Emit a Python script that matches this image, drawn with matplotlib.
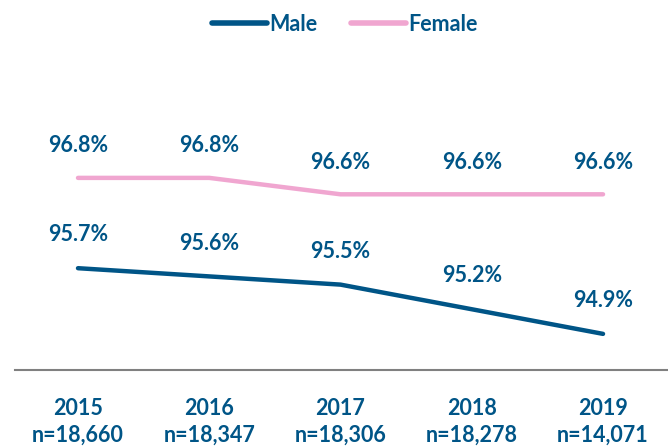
import matplotlib.pyplot as plt

years = ["2015", "2016", "2017", "2018", "2019"]
sample_sizes = ["n=18,660", "n=18,347", "n=18,306", "n=18,278", "n=14,071"]
male = [95.7, 95.6, 95.5, 95.2, 94.9]
female = [96.8, 96.8, 96.6, 96.6, 96.6]

navy = "#005587"
pink = "#F0A6D0"

plt.rcParams['font.family'] = ['Lato', 'DejaVu Sans']
plt.rcParams['font.weight'] = 'bold'

FS = 15.5


def main():
    fig = plt.figure(figsize=(6.68, 4.46), dpi=100)
    # axes spans from x=15px to the right edge, bottom at the baseline (y=370px)
    ax = fig.add_axes([15 / 668, 76 / 446, 653 / 668, 370 / 446])

    x = list(range(len(years)))
    ax.plot(x, male, color=navy, lw=3.2, solid_capstyle='round', label="Male")
    ax.plot(x, female, color=pink, lw=3.2, solid_capstyle='round', label="Female")

    for i in x:
        ax.annotate(f"{male[i]:.1f}%", (i, male[i]), xytext=(0, 24), textcoords='offset points',
                    ha='center', va='center', color=navy, fontsize=FS, fontweight='bold')
        ax.annotate(f"{female[i]:.1f}%", (i, female[i]), xytext=(0, 23), textcoords='offset points',
                    ha='center', va='center', color=navy, fontsize=FS, fontweight='bold')

    ax.set_xlim(-0.48, 4.495)
    ax.set_ylim(94.46, 94.46 + 370 / 82.1)

    for s in ['top', 'right', 'left']:
        ax.spines[s].set_visible(False)
    ax.spines['bottom'].set_color('#808080')
    ax.spines['bottom'].set_linewidth(1.5)
    ax.set_yticks([])
    ax.set_xticks(x)
    ax.set_xticklabels([f"{y}\n{n}" for y, n in zip(years, sample_sizes)],
                       color=navy, fontsize=FS, fontweight='bold', linespacing=1.35)
    ax.tick_params(axis='x', length=0, pad=20)

    leg = ax.legend(loc='upper center', bbox_to_anchor=(0.505, 1.0), ncol=2, frameon=False,
                    handlelength=2.55, handletextpad=0.1, columnspacing=1.6,
                    prop={'size': FS, 'weight': 'bold'}, borderaxespad=0.25)
    for line in leg.get_lines():
        line.set_linewidth(4)
    for t in leg.get_texts():
        t.set_color(navy)

    fig.savefig("out.png", dpi=100)


if __name__ == '__main__':
    main()
